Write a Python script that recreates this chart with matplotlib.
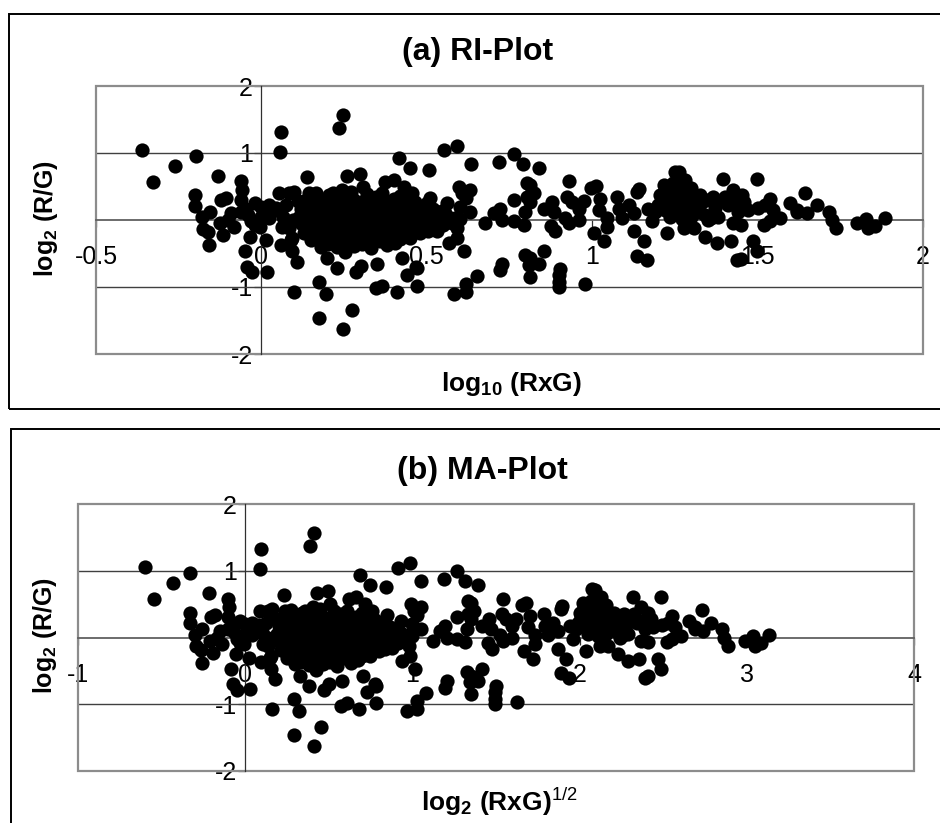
import numpy as np
import matplotlib
matplotlib.use("Agg")
import matplotlib.pyplot as plt
from matplotlib.patches import Rectangle

plt.rcParams['font.family'] = ['Liberation Sans', 'DejaVu Sans']
plt.rcParams['axes.unicode_minus'] = False
plt.rcParams['mathtext.fontset'] = 'custom'
plt.rcParams['mathtext.rm'] = 'Liberation Sans'
plt.rcParams['mathtext.bf'] = 'Liberation Sans:bold'
plt.rcParams['mathtext.it'] = 'Liberation Sans:italic'

left_pts = [(-0.362, 1.05), (-0.327, 0.57), (-0.261, 0.81), (-0.199, 0.96), (-0.132, 0.66),
            (-0.200, 0.37), (-0.200, 0.21), (-0.180, 0.04), (-0.155, 0.12), (-0.178, -0.13),
            (-0.160, -0.18), (-0.157, -0.38), (-0.122, 0.30), (-0.108, 0.33), (-0.125, -0.05),
            (-0.115, -0.23), (-0.092, 0.10), (-0.082, -0.10), (-0.100, 0.00), (-0.062, 0.58),
            (-0.058, 0.45), (-0.063, 0.30), (-0.062, 0.12), (-0.048, 0.17), (-0.050, -0.47),
            (-0.043, -0.70), (-0.028, -0.78), (-0.018, 0.25), (0.000, 0.05), (0.023, 0.03),
            (-0.030, -0.02), (-0.003, -0.10), (-0.033, -0.25), (0.013, -0.30), (0.018, -0.77),
            (0.058, 1.32), (0.055, 1.02), (0.053, 0.40), (0.083, 0.40), (0.098, 0.42),
            (0.023, 0.22), (0.063, -0.10), (0.058, -0.37), (0.088, -0.30), (0.093, -0.47),
            (0.108, -0.62), (0.098, -1.07), (0.083, -0.12), (0.093, -0.27), (0.045, 0.18),
            (0.075, 0.22), (0.110, 0.28), (0.065, 0.05), (0.095, 0.00), (0.120, -0.05),
            (-0.040, 0.08), (0.000, 0.20), (0.030, 0.12), (-0.020, -0.08)]

upper_pts = [(0.138, 0.64), (0.247, 1.56), (0.234, 1.37), (0.260, 0.66), (0.297, 0.69),
             (0.307, 0.50), (0.143, 0.40), (0.204, 0.37), (0.244, 0.45), (0.345, 0.35),
             (0.375, 0.57), (0.400, 0.60), (0.415, 0.93), (0.450, 0.78), (0.506, 0.75),
             (0.551, 1.045), (0.592, 1.11), (0.634, 0.84), (0.717, 0.87), (0.763, 0.99),
             (0.791, 0.84), (0.838, 0.78), (0.430, 0.50), (0.456, 0.40), (0.511, 0.33),
             (0.597, 0.50), (0.632, 0.45), (0.607, 0.40), (0.620, 0.33), (0.600, 0.20),
             (0.561, 0.25), (0.632, 0.12), (0.600, 0.02), (0.590, -0.12), (0.677, -0.05),
             (0.702, 0.10), (0.720, 0.17), (0.727, 0.00), (0.763, 0.30), (0.763, -0.02),
             (0.793, -0.07), (0.803, 0.55), (0.803, 0.35), (0.798, 0.12)]

lower_pts = [(0.174, -0.92), (0.194, -1.10), (0.174, -1.46), (0.248, -1.63), (0.273, -1.34),
             (0.199, -0.57), (0.229, -0.72), (0.285, -0.78), (0.300, -0.69), (0.350, -0.65),
             (0.345, -1.02), (0.365, -0.98), (0.254, -0.48), (0.425, -0.57), (0.466, -0.70),
             (0.440, -0.82), (0.471, -0.72), (0.471, -0.98), (0.410, -1.07), (0.612, -0.47),
             (0.592, -0.27), (0.566, -0.35), (0.652, -0.83), (0.617, -0.95), (0.617, -1.07),
             (0.582, -1.10), (0.727, -0.65), (0.720, -0.75), (0.798, -0.52), (0.808, -0.67),
             (0.813, -0.85), (0.813, -0.57), (0.838, -0.65), (0.853, -0.47), (0.904, -0.73),
             (0.900, -0.82), (0.900, -0.92), (0.900, -1.00), (0.979, -0.96)]

mid_pts = [(0.813, 0.52), (0.823, 0.40), (0.813, 0.27), (0.929, 0.58), (0.995, 0.48),
           (1.010, 0.51), (0.853, 0.17), (0.879, 0.27), (0.884, 0.12), (0.924, 0.35),
           (0.939, 0.27), (0.974, 0.28), (0.959, 0.17), (0.919, 0.03), (0.929, -0.05),
           (0.959, 0.00), (1.025, 0.32), (1.020, 0.15), (1.045, 0.03), (1.045, -0.10),
           (1.075, 0.35), (1.080, 0.17), (1.090, 0.03), (1.110, 0.22), (1.136, 0.42),
           (1.140, 0.47), (1.125, 0.10), (1.125, -0.17), (1.156, -0.32), (1.136, -0.53),
           (1.166, -0.60), (1.170, 0.17), (1.180, -0.02), (1.206, 0.37), (1.216, 0.52),
           (1.226, -0.20), (1.250, 0.72), (0.874, -0.085), (0.889, -0.17), (1.005, -0.20),
           (1.035, -0.32)]

cluster_pts = [(1.190, 0.12), (1.200, 0.22), (1.210, 0.30), (1.220, 0.15), (1.230, 0.40),
               (1.235, 0.05), (1.240, 0.25), (1.245, 0.55), (1.250, 0.33), (1.255, 0.12),
               (1.260, 0.45), (1.265, 0.20), (1.270, 0.02), (1.275, 0.35), (1.280, 0.60),
               (1.285, 0.15), (1.290, 0.42), (1.295, 0.27), (1.300, 0.05), (1.310, 0.35),
               (1.315, 0.18), (1.327, 0.37), (1.330, 0.25), (1.340, 0.08), (1.345, 0.30),
               (1.350, 0.00), (1.365, 0.35), (1.370, 0.18), (1.360, 0.03), (1.300, 0.48),
               (1.220, 0.45), (1.320, 0.12), (1.261, 0.71)]

right_pts = [(1.395, 0.61), (1.498, 0.61), (1.427, 0.45), (1.452, 0.37), (1.410, 0.22),
             (1.430, 0.25), (1.460, 0.27), (1.470, 0.15), (1.500, 0.18), (1.440, 0.12),
             (1.538, 0.32), (1.523, 0.22), (1.548, 0.15), (1.569, 0.025), (1.538, -0.02),
             (1.597, 0.25), (1.619, 0.12), (1.644, 0.41), (1.649, 0.10), (1.679, 0.22),
             (1.427, -0.05), (1.450, -0.07), (1.520, -0.07), (1.276, -0.12), (1.307, -0.12),
             (1.342, -0.25), (1.377, -0.35), (1.419, -0.32), (1.486, -0.32), (1.498, -0.47),
             (1.438, -0.60), (1.450, -0.58), (1.380, 0.05), (1.390, 0.28), (1.400, 0.35),
             (1.620, 0.15), (1.717, 0.12), (1.725, 0.00), (1.737, -0.12), (1.800, -0.05),
             (1.827, 0.015), (1.835, -0.12), (1.856, -0.085), (1.886, 0.035)]

core_pts = [(0.165, 0.41), (0.215, 0.40), (0.270, 0.42), (0.320, 0.39), (0.365, 0.40), (0.420, 0.36),
            (0.130, 0.28), (0.160, 0.30), (0.190, 0.29), (0.220, 0.31), (0.250, 0.29), (0.280, 0.30),
            (0.310, 0.28), (0.340, 0.30), (0.370, 0.29), (0.400, 0.31), (0.430, 0.28), (0.465, 0.27),
            (0.500, 0.25),
            (0.120, 0.17), (0.145, 0.16), (0.170, 0.18), (0.195, 0.17), (0.220, 0.16), (0.245, 0.18),
            (0.270, 0.17), (0.295, 0.16), (0.320, 0.18), (0.345, 0.17), (0.370, 0.16), (0.395, 0.18),
            (0.420, 0.17), (0.445, 0.16), (0.470, 0.17), (0.495, 0.15), (0.520, 0.16), (0.545, 0.14),
            (0.115, 0.05), (0.140, 0.06), (0.165, 0.04), (0.190, 0.05), (0.215, 0.06), (0.240, 0.04),
            (0.265, 0.05), (0.290, 0.06), (0.315, 0.04), (0.340, 0.05), (0.365, 0.06), (0.390, 0.04),
            (0.415, 0.05), (0.440, 0.06), (0.465, 0.04), (0.490, 0.05), (0.515, 0.06), (0.540, 0.04),
            (0.565, 0.05), (0.585, 0.03),
            (0.125, -0.07), (0.150, -0.06), (0.175, -0.08), (0.200, -0.07), (0.225, -0.06), (0.250, -0.08),
            (0.275, -0.07), (0.300, -0.06), (0.325, -0.08), (0.350, -0.07), (0.375, -0.06), (0.400, -0.08),
            (0.425, -0.07), (0.450, -0.06), (0.475, -0.08), (0.500, -0.07), (0.525, -0.06), (0.550, -0.08),
            (0.575, -0.05),
            (0.130, -0.19), (0.155, -0.18), (0.180, -0.20), (0.205, -0.19), (0.230, -0.18), (0.255, -0.20),
            (0.280, -0.19), (0.305, -0.18), (0.330, -0.20), (0.355, -0.19), (0.380, -0.18), (0.405, -0.20),
            (0.430, -0.19), (0.455, -0.18), (0.480, -0.20), (0.505, -0.17), (0.530, -0.16),
            (0.150, -0.30), (0.180, -0.31), (0.210, -0.29), (0.240, -0.30), (0.270, -0.31), (0.300, -0.29),
            (0.330, -0.30), (0.360, -0.31), (0.390, -0.29), (0.420, -0.28), (0.450, -0.27),
            (0.180, -0.40), (0.230, -0.41), (0.280, -0.39), (0.330, -0.42), (0.380, -0.38),
            (0.135, 0.22), (0.205, 0.23), (0.285, 0.23), (0.355, 0.23), (0.440, 0.22),
            (0.165, -0.13), (0.240, -0.13), (0.315, -0.13), (0.390, -0.13), (0.465, -0.13),
            (0.200, -0.36), (0.305, -0.36), (0.405, -0.34), (0.530, -0.02), (0.555, 0.10)]

all_pts = np.array(left_pts + upper_pts + lower_pts + mid_pts + cluster_pts + right_pts + core_pts)
log10_rg = all_pts[:, 0]
log2_ratio = all_pts[:, 1]
# A = log2 sqrt(RxG) = log10(RxG) / (2 log10 2)
log2_sqrt_rg = log10_rg / (2 * np.log10(2))

W, H = 940, 823
fig = plt.figure(figsize=(W / 100, H / 100), dpi=100)


def px_box(left, top, right, bottom):
    return [left / W, 1 - bottom / H, (right - left) / W, (bottom - top) / H]


def style_axes(ax, xlim, xticks):
    ax.set_xlim(*xlim)
    ax.set_ylim(-2, 2)
    ax.spines['left'].set_position(('data', 0))
    ax.spines['bottom'].set_position(('data', 0))
    ax.spines['top'].set_visible(False)
    ax.spines['right'].set_visible(False)
    ax.spines['left'].set_color('#303030')
    ax.spines['left'].set_linewidth(0.9)
    ax.spines['bottom'].set_color('#606060')
    ax.spines['bottom'].set_linewidth(1.3)
    ax.set_xticks(xticks, labels=[('%g' % t) for t in xticks])
    ax.set_yticks([-2, -1, 0, 1, 2], labels=['-2', '-1', '', '1', '2'])
    ax.tick_params(axis='x', direction='out', length=5, width=0.9, color='#303030',
                   labelsize=18, pad=13)
    ax.tick_params(axis='y', direction='out', length=5, width=0.9, color='#303030',
                   labelsize=18, pad=1)
    for yv in (-1, 1):
        ax.axhline(yv, color='#404040', lw=1.0, zorder=1)
    ax.add_patch(Rectangle((0, 0), 1, 1, transform=ax.transAxes, fill=False,
                           ec='#8c8c8c', lw=1.6, clip_on=False, zorder=2))
    ax.set_axisbelow(True)


# (a) RI-plot
ax1 = fig.add_axes(px_box(96, 86, 923, 354))
style_axes(ax1, (-0.5, 2), [-0.5, 0, 0.5, 1, 1.5, 2])
ax1.scatter(log10_rg, log2_ratio, s=105, c='black', linewidths=0, zorder=3, clip_on=False)

# (b) MA-plot
ax2 = fig.add_axes(px_box(78, 504, 914, 771))
style_axes(ax2, (-1, 4), [-1, 0, 1, 2, 3, 4])
ax2.scatter(log2_sqrt_rg, log2_ratio, s=105, c='black', linewidths=0, zorder=3, clip_on=False)

# outer frames
fig.add_artist(Rectangle((9 / W, 1 - 409 / H), 1.0, 395 / H, transform=fig.transFigure,
                         fill=False, ec='black', lw=1.4))
fig.add_artist(Rectangle((11 / W, -0.1), 1.0, 1 - 429 / H + 0.1, transform=fig.transFigure,
                         fill=False, ec='black', lw=1.4))

fig.text(478 / W, 1 - 52 / H, '(a) RI-Plot', ha='center', va='center', fontsize=23, fontweight='bold')
fig.text(482 / W, 1 - 471 / H, '(b) MA-Plot', ha='center', va='center', fontsize=23, fontweight='bold')
fig.text(511 / W, 1 - 384 / H, r'log$_\mathbf{10}$ (RxG)', ha='center', va='center',
         fontsize=19, fontweight='bold')
fig.text(499 / W, 1 - 802 / H, r'log$_\mathbf{2}$ (RxG)$^\mathrm{1/2}$', ha='center', va='center',
         fontsize=19, fontweight='bold')
fig.text(46 / W, 1 - 218 / H, r'log$_\mathbf{2}$ (R/G)', ha='center', va='center', rotation=90,
         fontsize=18, fontweight='bold')
fig.text(45 / W, 1 - 635 / H, r'log$_\mathbf{2}$ (R/G)', ha='center', va='center', rotation=90,
         fontsize=18, fontweight='bold')

fig.savefig('out.png', dpi=100)
